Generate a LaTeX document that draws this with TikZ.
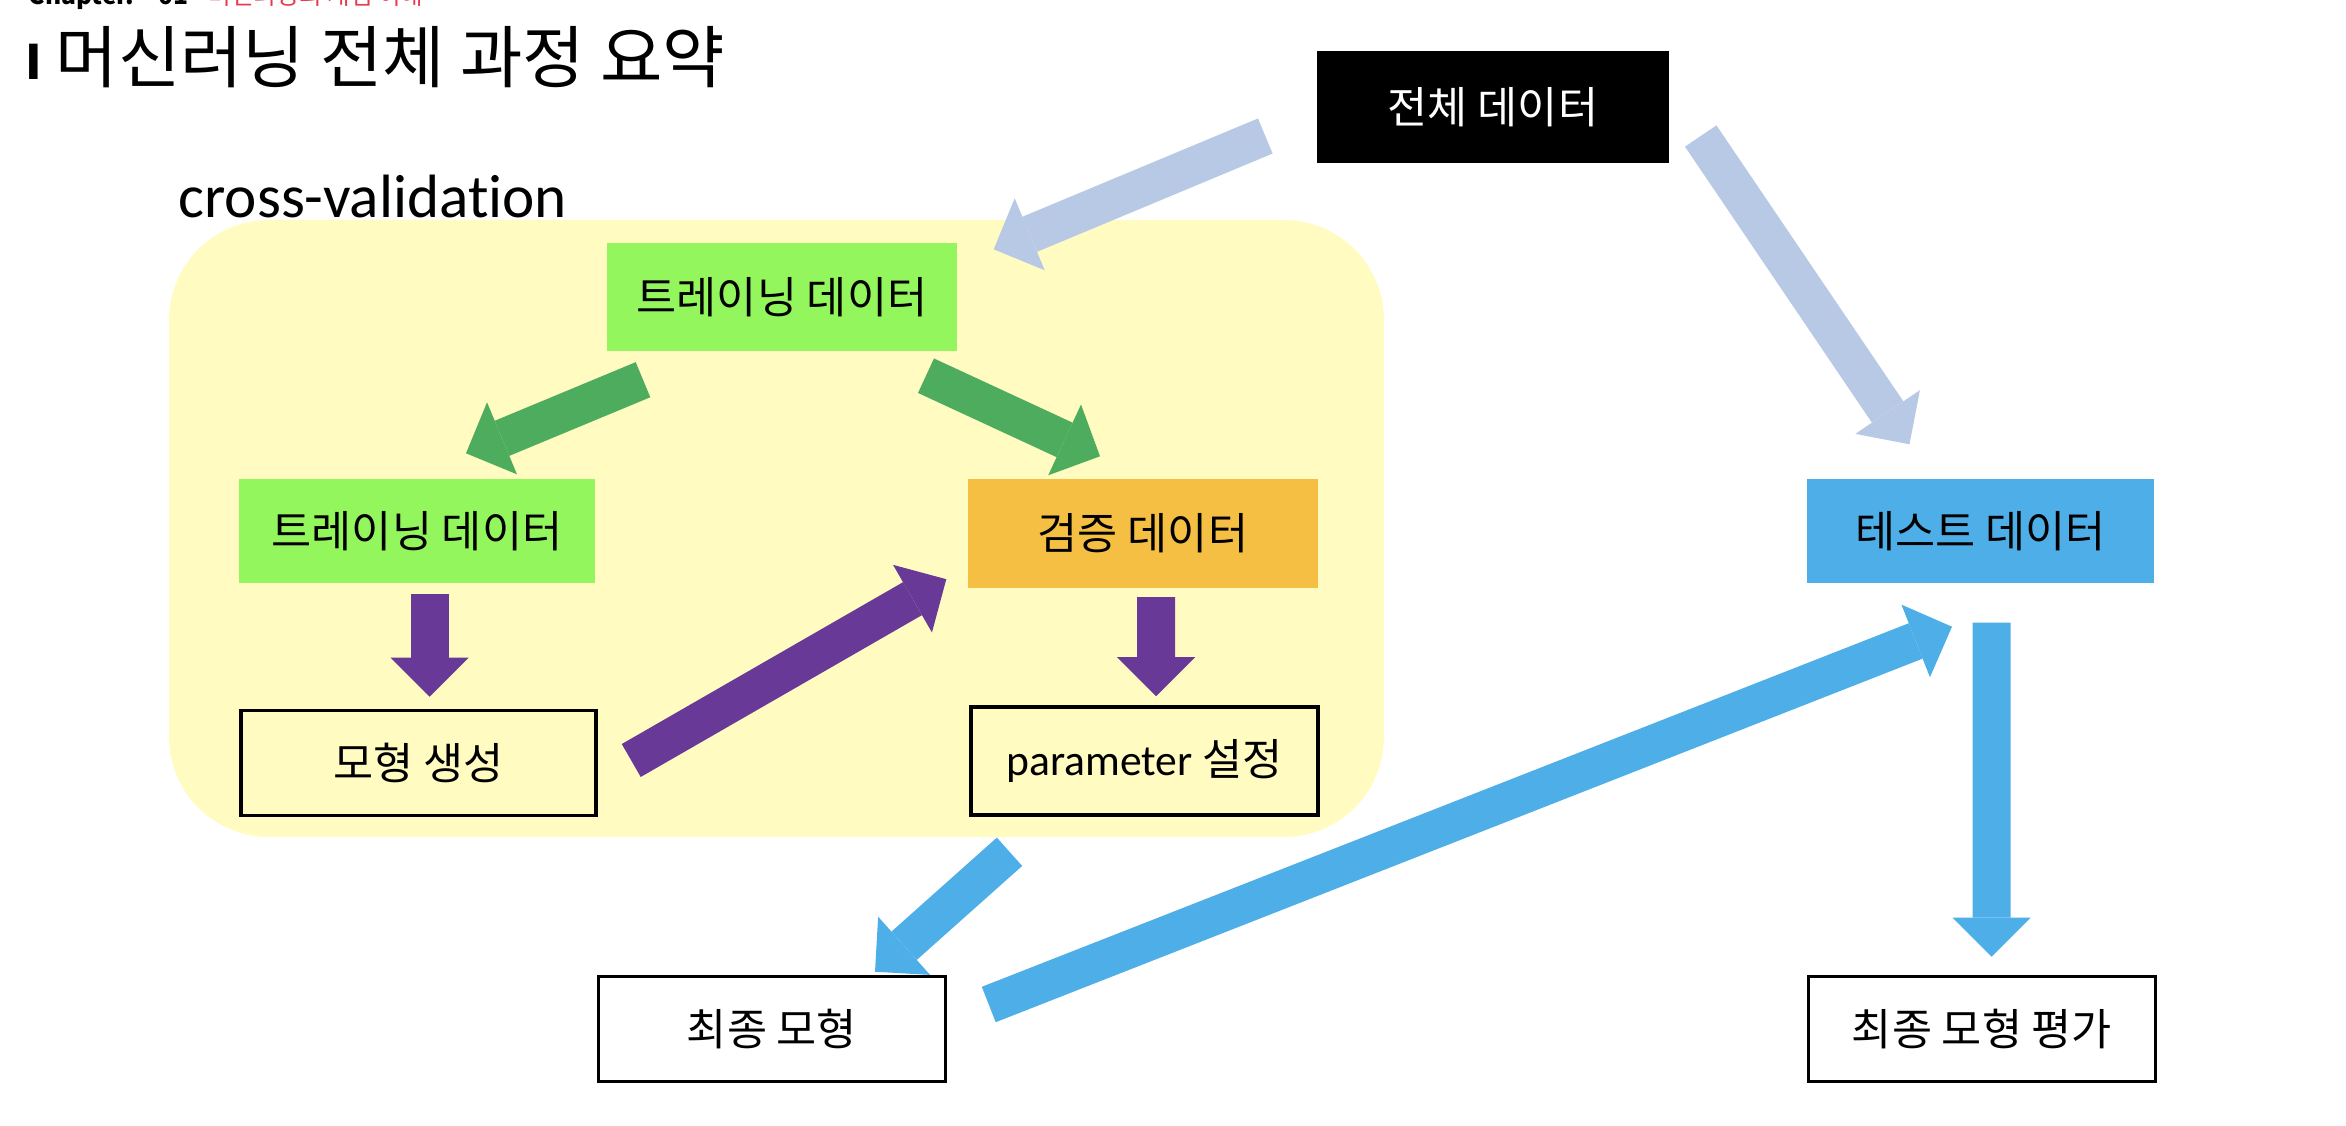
\documentclass[tikz,border=0pt]{standalone}
\usepackage{fontspec}
\setmainfont{Carlito}[Ligatures=NoCommon]
\newfontfamily\kr{Noto Sans CJK KR}
\usepackage{xcolor}
\usetikzlibrary{arrows.meta}
\usetikzlibrary{calc}

\definecolor{cvyellow}{HTML}{FFFBC1}
\definecolor{trgreen}{HTML}{92F65C}
\definecolor{vlorange}{HTML}{F5BF43}
\definecolor{tsblue}{HTML}{4EAEE8}
\definecolor{dataarrow}{HTML}{B8C9E5}
\definecolor{splitarrow}{HTML}{4DAC5D}
\definecolor{fitarrow}{HTML}{693998}
\definecolor{chapred}{HTML}{E8384F}

\begin{document}
\begin{tikzpicture}[x=1cm,y=1cm,
  box/.style={minimum width=3.5cm,minimum height=1.08cm,inner sep=0pt,
    font=\kr\fontsize{12.4}{14}\selectfont},
  framebox/.style={box,draw=black,line width=1pt,minimum width=3.47cm,minimum height=1.05cm},
  fat/.style={line width=0.38cm,
    -{Triangle[width=0.78cm,length=0.39cm,line width=0pt]}}
  ]

\useasboundingbox (0,0) rectangle (23.46,-11.26);

\node[anchor=base west,inner sep=0pt,font=\kr\fontsize{7}{8}\selectfont\bfseries] (chap) at (0.28,-0.05) {Chapter.\quad 01};
\node[anchor=base west,inner sep=0pt,font=\kr\fontsize{7}{8}\selectfont,text=chapred] (chaptitle) at (2.08,-0.05) {머신러닝의 개념 이해};

\node[anchor=base west,inner sep=0pt,font=\kr\fontsize{13.5}{14}\selectfont\bfseries] (mark) at (0.25,-0.80) {I};
\node[anchor=base west,inner sep=0pt,font=\kr\fontsize{19.3}{21}\selectfont] (title) at (0.55,-0.83) {머신러닝 전체 과정 요약};

\fill[cvyellow,rounded corners=1cm] (1.69,-2.2) rectangle (13.84,-8.37);
\node[anchor=base west,inner sep=0pt,font=\fontsize{17.4}{20}\selectfont] (cv) at (1.78,-2.18) {cross-validation};

\node[box,fill=black,text=white,minimum width=3.52cm,minimum height=1.12cm] (all) at (14.93,-1.07) {전체 데이터};
\node[box,fill=trgreen] (trainTop) at (7.82,-2.97) {트레이닝 데이터};
\node[box,fill=trgreen,minimum width=3.56cm,minimum height=1.04cm] (trainL) at (4.17,-5.31) {트레이닝 데이터};
\node[box,fill=vlorange,minimum height=1.09cm] (valid) at (11.43,-5.335) {검증 데이터};
\node[box,fill=tsblue,minimum width=3.47cm,minimum height=1.04cm] (test) at (19.805,-5.31) {테스트 데이터};
\node[framebox,minimum width=3.55cm] (model) at (4.185,-7.63) {모형 생성};
\node[framebox,minimum height=1.08cm] (param) at (11.445,-7.61) {{\rmfamily parameter} 설정};
\node[framebox] (final) at (7.72,-10.29) {최종 모형};
\node[framebox] (eval) at (19.82,-10.29) {최종 모형 평가};

\draw[fat,dataarrow] ($(all.west)+(-0.51,-0.29)$) -- ($(trainTop.north east)+(0.36,-0.07)$);
\draw[fat,dataarrow] ($(all.east)+(0.31,-0.29)$) -- ($(test.north)+(-0.71,0.34)$);

\draw[fat,splitarrow] ($(trainTop.south)+(-1.39,-0.28)$) -- ($(trainL.north)+(0.49,0.25)$);
\draw[fat,splitarrow] ($(trainTop.south)+(1.44,-0.24)$) -- ($(valid.north)+(-0.43,0.22)$);

\draw[fat,fitarrow] ($(trainL.south)+(0.125,-0.10)$) -- ($(model.north)+(0.11,0.12)$);
\draw[fat,fitarrow] ($(model.east)+(0.335,0.025)$) -- ($(valid.south west)+(-0.21,0.095)$);
\draw[fat,fitarrow] ($(valid.south)+(0.13,-0.085)$) -- ($(param.north)+(0.115,0.09)$);

\draw[fat,tsblue] ($(param.south)+(-1.35,-0.35)$) -- ($(final.north)+(1.03,0.03)$);
\draw[fat,tsblue] ($(final.east)+(0.415,0.245)$) -- ($(test.south)+(-0.285,-0.43)$);
\draw[fat,tsblue] ($(test.south)+(0.11,-0.39)$) -- ($(eval.north)+(0.095,0.18)$);

\end{tikzpicture}
\end{document}
